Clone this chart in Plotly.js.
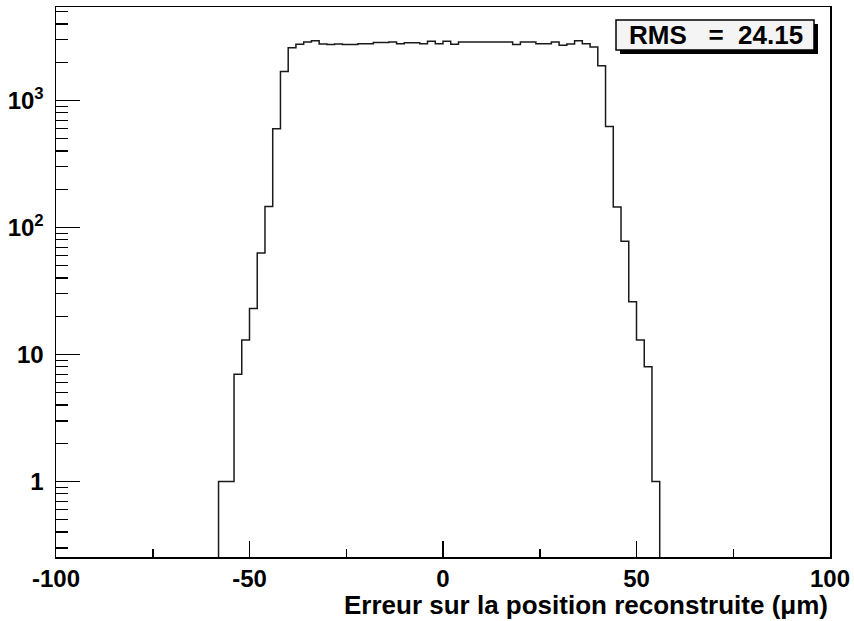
<!DOCTYPE html>
<html>
<head>
<meta charset="utf-8">
<script src="https://cdn.plot.ly/plotly-3.0.1.min.js"></script>
<style>
html, body { margin: 0; padding: 0; background: #ffffff; }
#chart { width: 854px; height: 621px; }
</style>
</head>
<body>
<div id="chart"></div>
<script>
// Histogram: bin width 2 µm, first bin starts at -58
const binStart = -58;
const binWidth = 2;
const counts = [
  1, 1, 7, 13, 23, 63, 146, 600, 1690,
  2600, 2770, 2890, 2958, 2787, 2753, 2787, 2753, 2753, 2803,
  2803, 2860, 2860, 2890, 2803, 2850, 2850, 2803, 2930, 2803,
  2930, 2771, 2890, 2890, 2890, 2890, 2890, 2890, 2890, 2753,
  2890, 2890, 2803, 2803, 2890, 2720, 2780, 2950, 2803, 2637,
  1877, 624, 145, 78, 26, 13, 8, 1
];
const xTickVals = [-100, -50, 0, 50, 100];
const xTickText = ['-100', '-50', '0', '50', '100'];
const yTickVals = [1, 10, 100, 1000];
const yTickText = ['1', '10', '10<sup>2</sup>', '10<sup>3</sup>'];
const rmsText = 'RMS   =  24.15';
const xTitle = 'Erreur sur la position reconstruite (\u03bcm)';

// Build the step outline (ROOT-style histogram line)
const baseline = 1e-3; // below the visible axis range
const xs = [binStart];
const ys = [baseline];
for (let i = 0; i < counts.length; i++) {
  xs.push(binStart + i * binWidth);
  ys.push(counts[i]);
}
const lastEdge = binStart + counts.length * binWidth;
xs.push(lastEdge); ys.push(counts[counts.length - 1]);
xs.push(lastEdge); ys.push(baseline);

// minor log ticks
const yMinor = [];
for (let d = -1; d <= 3; d++) {
  for (let m = 2; m <= 9; m++) {
    const v = m * Math.pow(10, d);
    if (v >= 0.26 && v <= 5400) yMinor.push(v);
  }
}

const FONT = 'Liberation Sans, Arial, Helvetica, sans-serif';

const trace = {
  type: 'scatter',
  mode: 'lines',
  x: xs,
  y: ys,
  line: { shape: 'hv', color: '#1a1a1a', width: 1.5 },
  hoverinfo: 'skip'
};

const layout = {
  width: 854,
  height: 621,
  margin: { l: 56, r: 24, t: 7, b: 64 },
  paper_bgcolor: '#ffffff',
  plot_bgcolor: '#ffffff',
  showlegend: false,
  font: { family: FONT, color: '#000000' },
  xaxis: {
    range: [-100, 100],
    showgrid: false,
    zeroline: false,
    showline: true,
    mirror: true,
    linecolor: '#000000',
    linewidth: 1.5,
    ticks: 'inside',
    ticklen: 16,
    tickwidth: 1.5,
    tickcolor: '#000000',
    tickmode: 'array',
    tickvals: xTickVals,
    ticktext: xTickText,
    tickfont: { family: FONT, size: 24, weight: 'bold', color: '#000000' },
    ticklabelstandoff: 0,
    minor: { ticks: 'inside', ticklen: 8, tickwidth: 1.5, tickcolor: '#000000', dtick: 25, showgrid: false }
  },
  yaxis: {
    type: 'log',
    range: [-0.5945, 3.736],
    showgrid: false,
    zeroline: false,
    showline: true,
    mirror: true,
    linecolor: '#000000',
    linewidth: 1.5,
    ticks: 'inside',
    ticklen: 24,
    tickwidth: 1.5,
    tickcolor: '#000000',
    tickmode: 'array',
    tickvals: yTickVals,
    ticktext: yTickText,
    tickfont: { family: FONT, size: 24, weight: 'bold', color: '#000000' },
    ticklabelstandoff: 6,
    minor: { ticks: 'inside', ticklen: 12, tickwidth: 1.2, tickcolor: '#000000', tickmode: 'array', tickvals: yMinor, showgrid: false }
  },
  shapes: [
    { type: 'rect', xref: 'paper', yref: 'paper', layer: 'above',
      x0: (620 - 56) / 774, x1: (818 - 56) / 774, y0: 1 - (54 - 7) / 550, y1: 1 - (24 - 7) / 550,
      fillcolor: '#000000', line: { width: 0 } },
    { type: 'rect', xref: 'paper', yref: 'paper', layer: 'above',
      x0: (616 - 56) / 774, x1: (814 - 56) / 774, y0: 1 - (50 - 7) / 550, y1: 1 - (20 - 7) / 550,
      fillcolor: '#f4f4f4', line: { color: '#000000', width: 1.5 } }
  ],
  annotations: [
    { xref: 'paper', yref: 'paper', x: (627 - 56) / 774, y: 1 - (35 - 7) / 550,
      xanchor: 'left', yanchor: 'middle', showarrow: false,
      text: rmsText.replace(/ /g, '&nbsp;'),
      font: { family: FONT, size: 26, weight: 'bold', color: '#000000' } },
    { xref: 'paper', yref: 'paper', x: 1, y: 0, xanchor: 'right', yanchor: 'middle',
      yshift: -48, showarrow: false, text: xTitle,
      font: { family: FONT, size: 26, weight: 'bold', color: '#000000' } }
  ]
};

Plotly.newPlot('chart', [trace], layout, { staticPlot: true, displayModeBar: false });
</script>
</body>
</html>
